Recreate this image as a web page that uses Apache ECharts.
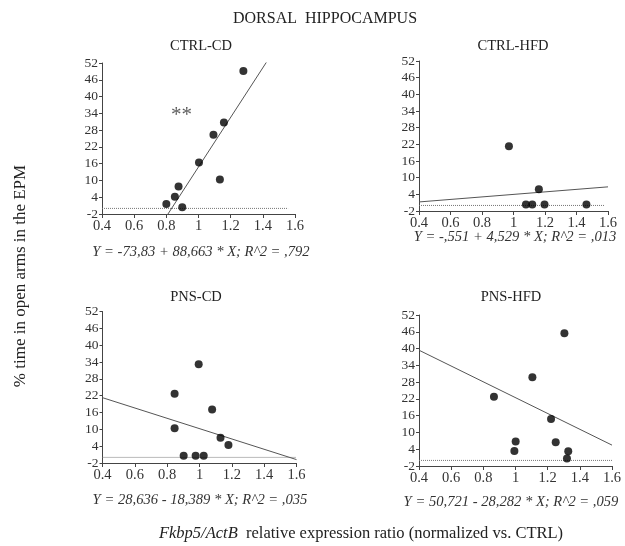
<!DOCTYPE html>
<html><head><meta charset="utf-8">
<script src="https://cdn.jsdelivr.net/npm/echarts@6/dist/echarts.min.js"></script>
<style>html,body{margin:0;padding:0;background:#fff}#c{width:625px;height:546px}</style>
</head><body><div id="c"></div>
<script>
// ---- data ----
var panelTitles = ['CTRL-CD', 'CTRL-HFD', 'PNS-CD', 'PNS-HFD'];
var ctrlCdX  = [0.800, 0.853, 0.876, 0.899, 1.003, 1.093, 1.133, 1.158, 1.279];
var ctrlCdY  = [1.6, 4.2, 7.8, 0.4, 16.4, 26.3, 10.3, 30.7, 49.1];
var ctrlHfdX = [0.971, 1.079, 1.119, 1.161, 1.197, 1.463];
var ctrlHfdY = [21.3, 0.3, 0.3, 5.8, 0.3, 0.3];
var pnsCdX   = [0.846, 0.846, 0.902, 0.976, 1.026, 0.995, 1.078, 1.130, 1.179];
var pnsCdY   = [22.7, 10.4, 0.6, 0.6, 0.6, 33.2, 17.1, 7.0, 4.4];
var pnsHfdX  = [0.866, 0.993, 1.001, 1.105, 1.221, 1.250, 1.304, 1.328, 1.320];
var pnsHfdY  = [22.8, 3.4, 6.8, 29.7, 14.8, 6.5, 45.5, 3.3, 0.7];
var intercepts = [-73.83, -0.551, 28.636, 50.721];
var slopes     = [88.663, 4.529, -18.389, -28.282];
var equations  = ['Y = -73,83 + 88,663 * X; R^2 = ,792',
                  'Y = -,551 + 4,529 * X; R^2 = ,013',
                  'Y = 28,636 - 18,389 * X; R^2 = ,035',
                  'Y = 50,721 - 28,282 * X; R^2 = ,059'];
var zeroLineEnd = [1.557, 1.58, 1.6, 1.6];
var xTicks = [0.4, 0.6, 0.8, 1, 1.2, 1.4, 1.6];
var yTicks = [-2, 4, 10, 16, 22, 28, 34, 40, 46, 52];
var starMark = {x: 0.895, y: 33.3, text: '**'};
var mainTitle = 'DORSAL  HIPPOCAMPUS';
var yLabel = '% time in open arms in the EPM';

var xs = [ctrlCdX, ctrlHfdX, pnsCdX, pnsHfdX];
var ys = [ctrlCdY, ctrlHfdY, pnsCdY, pnsHfdY];

// ---- layout ----
var FONT = '"Liberation Serif", "DejaVu Serif", serif';
var grids = [
  {left: 102, top: 63, width: 193, height: 151},
  {left: 419, top: 61, width: 189, height: 150},
  {left: 102.5, top: 311.5, width: 194, height: 151.5},
  {left: 419, top: 315, width: 193, height: 151}
];
var titlePos = [[201, 46], [513, 46], [196, 297], [511, 297]];
var eqPos = [[201, 252], [515, 237], [200, 500], [511, 502]];

var xAxes = [], yAxes = [], series = [], graphics = [];
for (var i = 0; i < 4; i++) {
  xAxes.push({
    type: 'value', gridIndex: i, min: xTicks[0], max: xTicks[xTicks.length-1], interval: 0.2,
    axisLine: {show: true, onZero: false, lineStyle: {color: '#444', width: 1}},
    axisTick: {show: true, length: 4, lineStyle: {color: '#444'}},
    splitLine: {show: false},
    axisLabel: {color: '#333', fontFamily: FONT, fontSize: 14.5, margin: 5,
      formatter: function (v) { return String(Math.round(v * 10) / 10); }}
  });
  yAxes.push({
    type: 'value', gridIndex: i, min: yTicks[0], max: yTicks[yTicks.length-1], interval: 6,
    axisLine: {show: true, onZero: false, lineStyle: {color: '#444', width: 1}},
    axisTick: {show: true, length: 3, lineStyle: {color: '#444'}},
    splitLine: {show: false},
    axisLabel: {color: '#333', fontFamily: FONT, fontSize: 13.5, margin: 4}
  });
  // zero reference (dotted)
  series.push({
    type: 'line', xAxisIndex: i, yAxisIndex: i, symbol: 'none', silent: true,
    data: [[xTicks[0], 0], [zeroLineEnd[i], 0]],
    lineStyle: {color: '#777', width: 1, type: [1, 1]}, z: 1
  });
  // regression line
  var x0 = xTicks[0], x1 = xTicks[xTicks.length-1];
  series.push({
    type: 'line', xAxisIndex: i, yAxisIndex: i, symbol: 'none', silent: true, clip: true,
    data: [[x0, intercepts[i] + slopes[i] * x0], [x1, intercepts[i] + slopes[i] * x1]],
    lineStyle: {color: '#555', width: 1}, z: 2
  });
  // points
  var pts = xs[i].map(function (x, k) { return [x, ys[i][k]]; });
  series.push({
    type: 'scatter', xAxisIndex: i, yAxisIndex: i, symbol: 'circle', symbolSize: 8,
    data: pts, itemStyle: {color: '#000'}, z: 3
  });
  graphics.push({type: 'text', x: titlePos[i][0], y: titlePos[i][1],
    style: {text: panelTitles[i], fill: '#222', font: '14.5px ' + FONT, textAlign: 'center', textVerticalAlign: 'middle'}});
  graphics.push({type: 'text', x: eqPos[i][0], y: eqPos[i][1],
    style: {text: equations[i], fill: '#333', font: 'italic 14.6px ' + FONT, textAlign: 'center', textVerticalAlign: 'middle'}});
}
// "**" annotation in data coordinates
series.push({
  type: 'scatter', xAxisIndex: 0, yAxisIndex: 0, symbolSize: 0, silent: true,
  data: [[starMark.x, starMark.y]],
  label: {show: true, position: 'inside', formatter: starMark.text, color: '#333', fontFamily: FONT, fontSize: 21}
});

graphics.push({type: 'text', x: 325, y: 19,
  style: {text: mainTitle, fill: '#222', font: '16px ' + FONT, textAlign: 'center', textVerticalAlign: 'middle'}});
graphics.push({type: 'text', x: 21, y: 276, rotation: Math.PI / 2,
  style: {text: yLabel, fill: '#222', font: '17px ' + FONT, textAlign: 'center', textVerticalAlign: 'middle'}});
graphics.push({type: 'text', x: 361, y: 534,
  style: {rich: {i: {fontStyle: 'italic', fontFamily: FONT, fontSize: 16.5, fill: '#222'}, n: {fontFamily: FONT, fontSize: 16.5, fill: '#222'}},
    text: '{i|Fkbp5/ActB}{n|  relative expression ratio (normalized vs. CTRL)}', textAlign: 'center', textVerticalAlign: 'middle'}});

var chart = echarts.init(document.getElementById('c'), null, {renderer: 'canvas'});
chart.setOption({
  animation: false,
  backgroundColor: '#fff',
  grid: grids,
  xAxis: xAxes,
  yAxis: yAxes,
  series: series,
  graphic: graphics
});
</script></body></html>
